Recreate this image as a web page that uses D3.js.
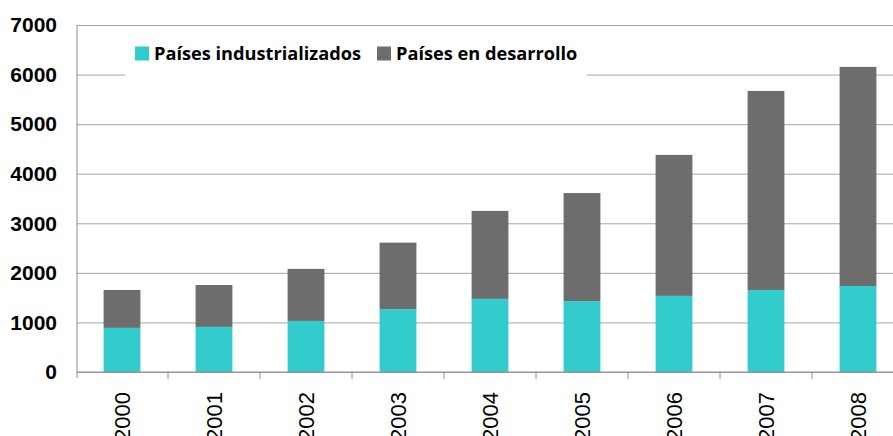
<!DOCTYPE html>
<html>
<head>
<meta charset="utf-8">
<script src="https://cdn.jsdelivr.net/npm/d3@7"></script>
<style>
  body { margin: 0; background: #fff; overflow: hidden; }
  svg { display: block; }
</style>
</head>
<body>
<svg id="chart"></svg>
<script>
const years = ["2000", "2001", "2002", "2003", "2004", "2005", "2006", "2007", "2008"]
const industrializados = [890, 910, 1030, 1270, 1475, 1430, 1535, 1655, 1735]
const desarrollo = [765, 845, 1050, 1340, 1775, 2180, 2845, 4015, 4420]
const yTicks = [0, 1000, 2000, 3000, 4000, 5000, 6000, 7000]
const seriesNames = ["Países industrializados", "Países en desarrollo"]
const colors = ["#33cccc", "#6d6d6d"]

const width = 893, height = 436
const margin = {top: 25, right: -11, bottom: 64, left: 77}

const rows = years.map((y, i) => ({year: y, ind: industrializados[i], dev: desarrollo[i]}))
const stacked = d3.stack().keys(["ind", "dev"])(rows)

const x = d3.scaleBand()
    .domain(years)
    .range([margin.left - 1, width - margin.right])
    .padding(0)

const y = d3.scaleLinear()
    .domain([0, 7000])
    .range([height - margin.bottom, margin.top])

const svg = d3.select("#chart")
    .attr("width", width)
    .attr("height", height)

// grid + y labels
const yAxis = g => g
    .attr("transform", `translate(${margin.left},0)`)
    .call(d3.axisLeft(y)
        .tickValues(yTicks)
        .tickSize(8)
        .tickPadding(12)
        .tickFormat(d3.format("d")))
    .call(g => g.select(".domain").remove())
    .call(g => g.selectAll(".tick line")
        .attr("stroke", "#a6a6a6")
        .attr("x2", width))
    .call(g => g.selectAll(".tick text")
        .attr("font-family", "Liberation Sans, Arial, sans-serif")
        .attr("font-weight", "bold")
        .attr("font-size", 21)
        .attr("fill", "#000"))

svg.append("g").call(yAxis)

// bars
const barW = x.bandwidth() * 0.4
svg.append("g")
    .selectAll("g")
    .data(stacked)
    .join("g")
    .attr("fill", (d, i) => colors[i])
    .selectAll("rect")
    .data(d => d)
    .join("rect")
    .attr("x", d => x(d.data.year) + (x.bandwidth() - barW) / 2)
    .attr("width", barW)
    .attr("y", d => y(d[1]))
    .attr("height", d => y(d[0]) - y(d[1]))

// x axis
const xAxis = g => g
    .attr("transform", `translate(0,${y(0)})`)
    .call(d3.axisBottom(x).tickSize(0).tickPadding(0))
    .call(g => g.select(".domain").remove())
    .call(g => g.selectAll(".tick text")
        .attr("transform", "translate(0,20) rotate(-90)")
        .attr("dy", "0.35em")
        .attr("text-anchor", "end")
        .attr("font-family", "Liberation Sans, Arial, sans-serif")
        .attr("font-size", 22)
        .attr("fill", "#000"))

svg.append("g").call(xAxis)

const axisColor = "#8c8c8c"
svg.append("line")
    .attr("x1", margin.left).attr("x2", width)
    .attr("y1", y(0)).attr("y2", y(0))
    .attr("stroke", axisColor)
svg.append("g")
    .selectAll("line")
    .data(years.slice(1))
    .join("line")
    .attr("x1", d => x(d)).attr("x2", d => x(d))
    .attr("y1", y(0)).attr("y2", y(0) + 7)
    .attr("stroke", axisColor)
svg.append("line")
    .attr("x1", margin.left).attr("x2", margin.left)
    .attr("y1", y(7000)).attr("y2", y(0) + 6)
    .attr("stroke", axisColor)

// legend
const legend = svg.append("g")
legend.append("rect")
    .attr("x", 125).attr("y", 35)
    .attr("width", 462).attr("height", 50)
    .attr("fill", "#fff")
const legendX = [135, 377]
seriesNames.forEach((name, i) => {
    legend.append("rect")
        .attr("x", legendX[i]).attr("y", 46.5)
        .attr("width", 14).attr("height", 14)
        .attr("fill", colors[i])
    legend.append("text")
        .attr("x", legendX[i] + 19).attr("y", 60)
        .attr("font-family", "Open Sans, sans-serif")
        .attr("font-weight", "bold")
        .attr("font-size", 18.2)
        .attr("fill", "#000")
        .text(name)
})
</script>
</body>
</html>
